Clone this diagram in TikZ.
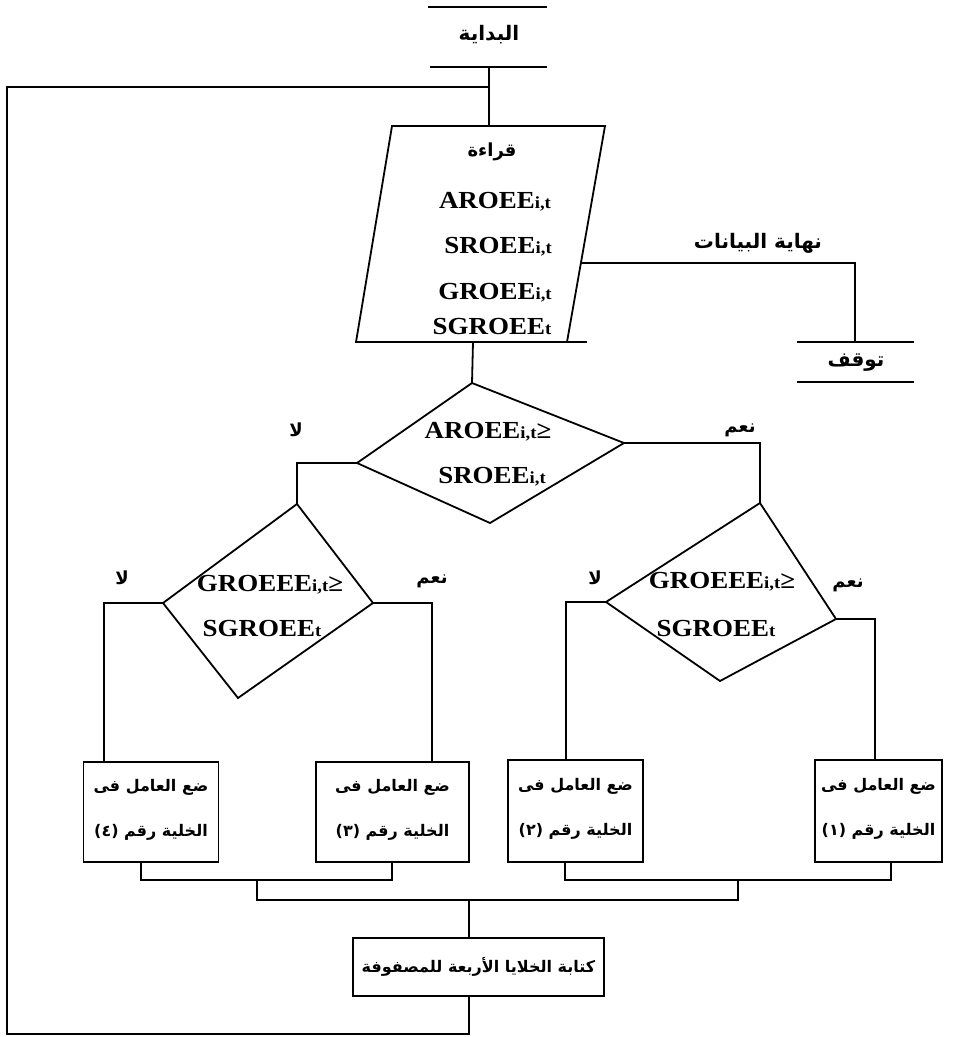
\documentclass[tikz,border=0pt]{standalone}
\usepackage{fontspec}
\setmainfont{Liberation Serif}
\newfontfamily\lat[FakeStretch=1.1]{Liberation Serif}
\newfontfamily\arf[Script=Arabic]{DejaVu Sans}
\TeXXeTstate=1
\usetikzlibrary{calc}
\newcommand{\AR}[1]{\beginR #1\endR}
\newcommand{\lsb}[1]{{\fontsize{17}{17}\selectfont #1}}
\tikzset{
  art/.style={font=\arf\bfseries\fontsize{16}{16}\selectfont, inner sep=0pt},
  arbig/.style={font=\arf\bfseries\fontsize{20}{20}\selectfont, inner sep=0pt},
  arlab/.style={font=\arf\bfseries\fontsize{18}{18}\selectfont, inner sep=0pt},
  lat/.style={font=\lat\bfseries\fontsize{24.5}{24.5}\selectfont, inner sep=0pt},
  box/.style={draw, inner sep=0pt},
}
\begin{document}
\begin{tikzpicture}[x=1pt,y=-1pt,line width=1.8pt]
\useasboundingbox (0,0) rectangle (953,1037);
% start terminal
\draw (428,7) -- (547,7);
\draw (430,67) -- (547,67);
\node[arbig] (start) at (489,35) {\AR{البداية}};
\coordinate (startb) at (489,67);
\coordinate (loopj) at (489,87);
% read parallelogram
\coordinate (pA) at (392,126);
\coordinate (pB) at (605,126);
\coordinate (pC) at (567,342);
\coordinate (pD) at (356,342);
\draw (pA) -- (pB) -- (pC) -- (pD) -- cycle;
\draw (pC) -- (587,342);
\coordinate (pin) at (489,126);
\coordinate (pout) at (473,342);
\coordinate (pright) at ($(pB)!0.634!(pC)$);
\node[arlab] (rd) at (492,152) {\AR{قراءة}};
\node[lat] (v1) at (495,202) {AROEE\lsb{i,t}};
\node[lat] (v2) at (498,247) {SROEE\lsb{i,t}};
\node[lat] (v3) at (495,293) {GROEE\lsb{i,t}};
\node[lat] (v4) at (492,327) {SGROEE\lsb{t}};
% stop terminal
\draw (797,342) -- (914,342);
\draw (797,382) -- (914,382);
\node[arbig] (stop) at (856,363) {\AR{توقف}};
\coordinate (stopt) at (855,342);
\node[arbig] (eod) at (758,243) {\AR{نهاية البيانات}};
% diamond 1
\coordinate (d1t) at (472,383);
\coordinate (d1r) at (624,443);
\coordinate (d1b) at (490,523);
\coordinate (d1l) at (357,463);
\draw (d1t) -- (d1r) -- (d1b) -- (d1l) -- cycle;
\node[lat] (d1a) at (488,432) {AROEE\lsb{i,t}≥};
\node[lat] (d1c) at (492,477) {SROEE\lsb{i,t}};
\node[arlab] (d1no) at (296,430) {\AR{لا}};
\node[arlab] (d1yes) at (740,430) {\AR{نعم}};
% diamond 2
\coordinate (d2t) at (297,504);
\coordinate (d2r) at (373,603);
\coordinate (d2b) at (238,698);
\coordinate (d2l) at (163,603);
\draw (d2t) -- (d2r) -- (d2b) -- (d2l) -- cycle;
\node[lat] (d2a) at (270,585) {GROEEE\lsb{i,t}≥};
\node[lat] (d2c) at (262,628) {SGROEE\lsb{t}};
\node[arlab] (d2no) at (122,578) {\AR{لا}};
\node[arlab] (d2yes) at (432,581) {\AR{نعم}};
% diamond 3
\coordinate (d3t) at (760,503);
\coordinate (d3r) at (836,619);
\coordinate (d3b) at (720,681);
\coordinate (d3l) at (606,602);
\draw (d3t) -- (d3r) -- (d3b) -- (d3l) -- cycle;
\node[lat] (d3a) at (722,582) {GROEEE\lsb{i,t}≥};
\node[lat] (d3c) at (716,628) {SGROEE\lsb{t}};
\node[arlab] (d3no) at (595,578) {\AR{لا}};
\node[arlab] (d3yes) at (848,585) {\AR{نعم}};
% process boxes
\node[box, minimum width=135pt, minimum height=100pt] (b4) at (151,812) {};
\node[box, minimum width=153pt, minimum height=100pt] (b3) at (392.5,812) {};
\node[box, minimum width=135pt, minimum height=102pt] (b2) at (575.5,811) {};
\node[box, minimum width=127pt, minimum height=102pt] (b1) at (878.5,811) {};
\node[box, minimum width=251pt, minimum height=58pt] (b5) at (478.5,967) {};
\foreach \n/\d in {b4/٤,b3/٣,b2/٢,b1/١}{
  \node[art] (\n t1) at ($(\n.center)+(0,-25)$) {\AR{ضع العامل فى}};
  \node[art] (\n t2) at ($(\n.center)+(0,20)$) {\AR{الخلية رقم (\d)}};
}
\node[art] (b5t) at (b5.center) {\AR{كتابة الخلايا الأربعة للمصفوفة}};
% connectors
\draw (startb) -- (pin);
\draw (loopj) -- (7,87) -- (7,1034) -- (469,1034) -- (b5.south -| 469,0);
\draw (pright) -| (stopt);
\draw (pout) -- (d1t);
\draw (d1l) -| (d2t);
\draw (d1r) -| (d3t);
\draw (d2l) -| (b4.north -| 104,0);
\draw (d2r) -| (b3.north -| 432,0);
\draw (d3l) -| (b2.north -| 566,0);
\draw (d3r) -| (b1.north -| 875,0);
\draw (b4.south -| 141,0) -- (141,880) -- (392,880) -- (b3.south -| 392,0);
\draw (b2.south -| 565,0) -- (565,880) -- (891,880) -- (b1.south -| 891,0);
\coordinate (jl) at (257,880);
\coordinate (jr) at (738,880);
\draw (jl) -- (257,900) -- (738,900) -- (jr);
\draw (469,900) -- (b5.north -| 469,0);
\end{tikzpicture}
\end{document}
